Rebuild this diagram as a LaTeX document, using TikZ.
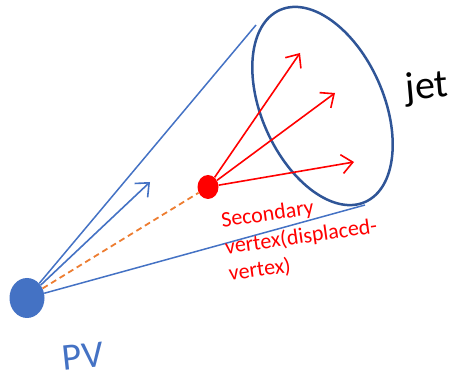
\documentclass[tikz,border=0pt]{standalone}
\usepackage{fontspec}
\setmainfont{Carlito}
\usetikzlibrary{shapes.geometric, arrows.meta, positioning}
\definecolor{pvblue}{HTML}{4472C4}
\definecolor{jetblue}{HTML}{2F5597}
\definecolor{dashorange}{HTML}{ED7D31}

\begin{document}
\begin{tikzpicture}[x=1pt, y=1pt,
    vertex/.style={ellipse, inner sep=0pt, draw=none},
    cone/.style={draw=pvblue, line width=1.5pt},
    track/.style={line width=1.6pt, -{Straight Barb[length=11pt, width=19pt]}}]
    \useasboundingbox (0,0) rectangle (452,377);
    % vertices
    \node[vertex, fill=pvblue, minimum width=35pt, minimum height=40pt] (PV) at (27,79) {};
    \node[vertex, fill=red, minimum width=21pt, minimum height=24pt] (SV) at (208,190) {};
    % jet cone
    \node[ellipse, draw=jetblue, line width=2.5pt, minimum width=122pt, minimum height=210pt, rotate=24] (jet) at (322.5,271) {};
    \coordinate (conetop) at (256,352);
    \coordinate (conebot) at (365,172);
    \draw[cone] (PV) -- (conetop);
    \draw[cone] (PV) -- (conebot);
    % tracks
    \coordinate (pvtrk) at (150,195);
    \coordinate (sv1) at (300,324);
    \coordinate (sv2) at (335,284);
    \coordinate (sv3) at (354,215);
    \draw[track, pvblue] (PV) -- (pvtrk);
    \draw[dashorange, line width=1.8pt, dash pattern=on 6pt off 4pt] (PV) -- (SV);
    \foreach \e in {sv1,sv2,sv3}
        \draw[track, red] (SV) -- (\e);
    % labels
    \node[text=pvblue, font=\fontsize{38}{40}\selectfont, rotate=6] (pvlbl) at (83,21) {PV};
    \node[font=\fontsize{40}{42}\selectfont, rotate=5] (jetlbl) at (427,289) {jet};
    \node[text=red, font=\fontsize{22}{27}\selectfont, align=left, anchor=north west, rotate=8, inner sep=0pt] (svlbl) at (220,165) {Secondary\\vertex(displaced-\\vertex)};
\end{tikzpicture}
\end{document}
